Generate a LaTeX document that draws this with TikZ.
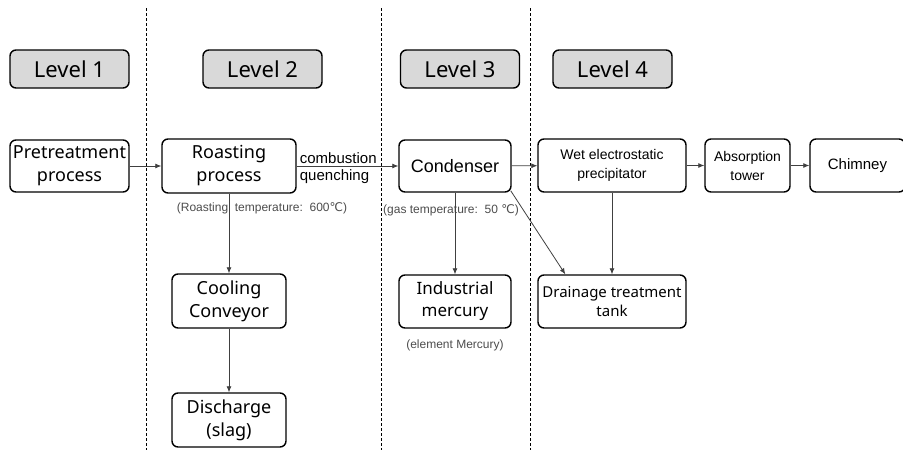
\documentclass[tikz,border=0pt]{standalone}
\usepackage{fontspec}
\setmainfont{Liberation Sans}
\newfontfamily\notofont{Noto Sans}
\newfontfamily\dejafont{DejaVu Sans}
\usetikzlibrary{arrows.meta}

\newcommand{\degc}{{\dejafont ℃}}

\tikzset{
  box/.style={draw, line width=1.4pt, rounded corners=6pt, align=center, inner sep=0pt},
  levelbox/.style={box, fill=black!15, minimum width=119pt, minimum height=38pt,
    font=\notofont\fontsize{22}{26}\selectfont},
  bigbox/.style={box, font=\notofont\fontsize{18}{23}\selectfont},
  smallbox/.style={box, font=\fontsize{14}{19}\selectfont},
  note/.style={inner sep=1pt, text=black!70, font=\fontsize{12}{14}\selectfont},
  flowlbl/.style={inner sep=2pt, font=\fontsize{15}{17}\selectfont},
  flow/.style={draw=black!75, line width=0.8pt, -{Latex[length=6pt,width=5pt]}}
}

\begin{document}
\begin{tikzpicture}[x=1pt,y=-1pt]
  \useasboundingbox (0,0) rectangle (903,450);
  % level separators
  \foreach \x in {146,381,530} {\draw[dashed, line width=0.6pt, dash pattern=on 3pt off 2pt] (\x,8) -- (\x,450);}

  % level headers
  \node[levelbox] (lv1) at (69.5,69) {Level 1};
  \node[levelbox] (lv2) at (262.5,69) {Level 2};
  \node[levelbox] (lv3) at (460,69) {Level 3};
  \node[levelbox] (lv4) at (612.5,69) {Level 4};

  % process boxes
  \node[bigbox, minimum width=119pt, minimum height=52pt] (pre) at (69.5,166) {Pretreatment\\process};
  \node[bigbox, minimum width=134pt, minimum height=54pt] (roast) at (229,166) {Roasting\\process};
  \node[box, minimum width=112pt, minimum height=52pt, font=\fontsize{18}{23}\selectfont] (cond) at (455,166) {Condenser};
  \node[smallbox, minimum width=148pt, minimum height=53pt] (wep) at (612,165.5) {Wet electrostatic\\precipitator};
  \node[smallbox, minimum width=85pt, minimum height=53pt] (tower) at (747.5,165.5) {Absorption\\tower};
  \node[box, minimum width=95pt, minimum height=53pt, font=\fontsize{15}{19}\selectfont] (chim) at (857.5,165.5) {Chimney};

  \node[bigbox, minimum width=114pt, minimum height=54pt] (cool) at (229,301) {Cooling\\Conveyor};
  \node[bigbox, minimum width=114pt, minimum height=54pt] (disch) at (229,420) {Discharge\\(slag)};
  \node[box, minimum width=112pt, minimum height=53pt, font=\notofont\fontsize{17}{22}\selectfont] (merc) at (455,301.5) {Industrial\\mercury};
  \node[box, minimum width=148pt, minimum height=53pt, font=\notofont\fontsize{15}{19}\selectfont] (drain) at (612,301.5) {Drainage treatment\\tank};

  % notes
  \node[note] (roastnote) at (262,208) {(Roasting\ \ temperature:\ \ 600\degc)};
  \node[note] (gasnote) at (451,210) {(gas temperature:\ \ 50 \degc)};
  \node[note] (mercnote) at (455,345) {(element Mercury)};

  % connectors
  \draw[flow] (pre) -- (roast);
  \draw[flow] (roast) -- (cond);
  \node[flowlbl, anchor=south west] (comb) at ([xshift=1pt]roast.east) {combustion};
  \node[flowlbl, anchor=north west, inner ysep=3pt] (quench) at ([xshift=1pt]roast.east) {quenching};
  \draw[flow] (cond) -- (wep);
  \draw[flow] (wep) -- (tower);
  \draw[flow] (tower) -- (chim);
  \draw[flow] (roast) -- (cool);
  \draw[flow] (cool) -- (disch);
  \draw[flow] (cond) -- (merc);
  \draw[flow] (wep) -- (drain);
  \draw[flow] ([xshift=-1pt,yshift=2pt]cond.south east) -- ([xshift=28pt]drain.north west);
\end{tikzpicture}
\end{document}
